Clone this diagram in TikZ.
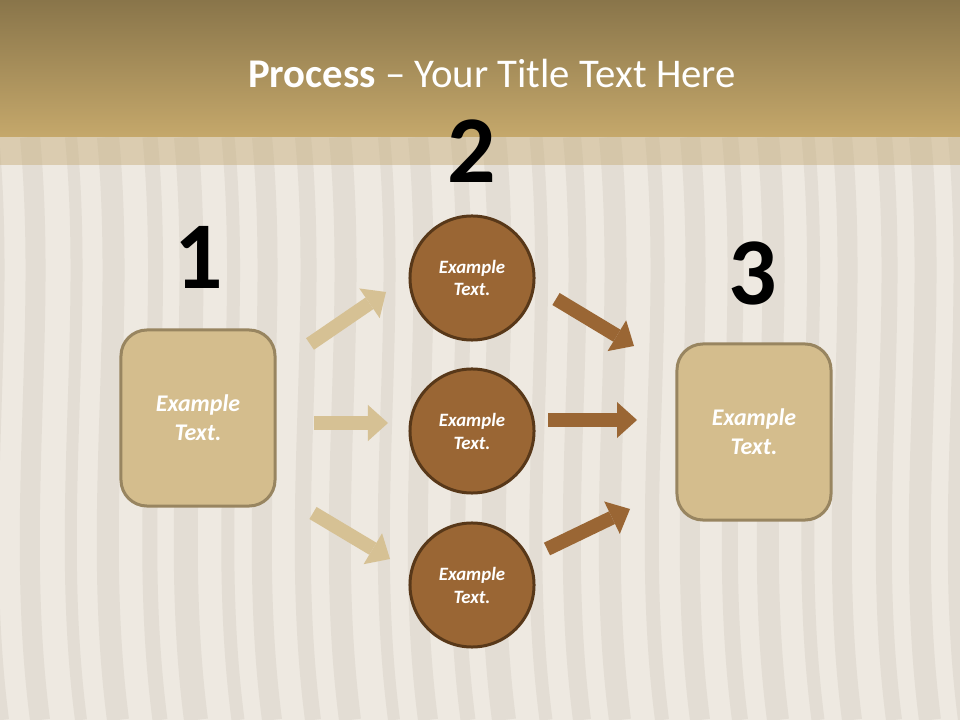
\documentclass[tikz,border=0pt]{standalone}
\usepackage{fontspec}
\setmainfont{Carlito}
\usetikzlibrary{arrows.meta}

\definecolor{sand}{RGB}{238,233,225}
\definecolor{sandline}{RGB}{214,207,197}
\definecolor{headtop}{RGB}{137,117,74}
\definecolor{headbot}{RGB}{197,168,107}
\definecolor{bandtan}{RGB}{196,170,118}
\definecolor{boxfill}{RGB}{212,189,141}
\definecolor{boxline}{RGB}{152,133,96}
\definecolor{stepfill}{RGB}{154,102,52}
\definecolor{stepline}{RGB}{88,56,25}
\definecolor{armtan}{RGB}{214,193,148}

\tikzset{
  box/.style={rectangle, rounded corners=0.65cm, fill=boxfill, draw=boxline,
    line width=0.075cm, minimum width=3.85cm, minimum height=4.4cm,
    text=white, align=center, font=\fontsize{17}{20.5}\selectfont\bfseries\itshape},
  stepdisc/.style={circle, fill=stepfill, draw=stepline, line width=0.075cm,
    minimum size=3.1cm, inner sep=0pt, text=white, align=center,
    font=\fontsize{13.4}{16.3}\selectfont\bfseries\itshape},
  num/.style={text=black, inner sep=0pt, font=\fontsize{68}{68}\selectfont\bfseries},
  tanarr/.style={draw=armtan, line width=0.35cm,
    -{Triangle[width=0.9cm,length=0.5cm,line width=0pt]}},
  brownarr/.style={draw=stepfill, line width=0.35cm,
    -{Triangle[width=0.9cm,length=0.5cm,line width=0pt]}},
  sandstripe/.style={draw=sandline, opacity=0.45}
}

\begin{document}
\begin{tikzpicture}[x=0.025cm, y=-0.025cm]
        \useasboundingbox (0,0) rectangle (960,720);
        % background
        \fill[sand] (0,0) rectangle (960,720);
        \begin{scope}
            \clip (0,0) rectangle (960,720);
            \foreach \x/\w in {-8/14,30/20,71/12,108/22,150/15,186/24,228/13,262/20,303/16,340/22,
                               384/12,418/20,458/15,494/24,536/13,572/18,610/22,652/14,690/20,
                               730/16,768/22,808/13,842/20,884/16,920/22,955/14}
                \draw[sandstripe, line width=\w*0.025cm]
                    (\x,137) .. controls (\x+18,330) and (\x-16,520) .. (\x+10,720);
        \end{scope}
        \shade[top color=headtop, bottom color=headbot] (0,0) rectangle (960,137);
        \fill[bandtan, opacity=0.45] (0,137) rectangle (960,165);

        % title
        \node[text=white, anchor=base, font=\fontsize{29}{32}\selectfont] (title) at (492,88)
            {\textbf{Process} – Your Title Text Here};

        % step numbers
        \node[num] (n1) at (199,257) {1};
        \node[num] (n2) at (472,151) {2};
        \node[num] (n3) at (753,273) {3};

        % boxes and circles
        \node[box] (start) at (198,418) {Example\\Text.};
        \node[box] (finish) at (754,432) {Example\\Text.};
        \node[stepdisc] (s1) at (472,278) {Example\\Text.};
        \node[stepdisc] (s2) at (472,431) {Example\\Text.};
        \node[stepdisc] (s3) at (472,585) {Example\\Text.};

        % arrow ends
        \coordinate (a1) at (310,344);  \coordinate (b1) at (386,292);
        \coordinate (a2) at (314,423);  \coordinate (b2) at (388,423);
        \coordinate (a3) at (313,513);  \coordinate (b3) at (390,559);
        \coordinate (c1) at (556,299);  \coordinate (d1) at (634,346);
        \coordinate (c2) at (548,420);  \coordinate (d2) at (637,420);
        \coordinate (c3) at (547,549);  \coordinate (d3) at (630,509);

        \path (a1) edge [tanarr] (b1);
        \path (a2) edge [tanarr] (b2);
        \path (a3) edge [tanarr] (b3);

        \path (c1) edge [brownarr] (d1);
        \path (c2) edge [brownarr] (d2);
        \path (c3) edge [brownarr] (d3);
\end{tikzpicture}
\end{document}
